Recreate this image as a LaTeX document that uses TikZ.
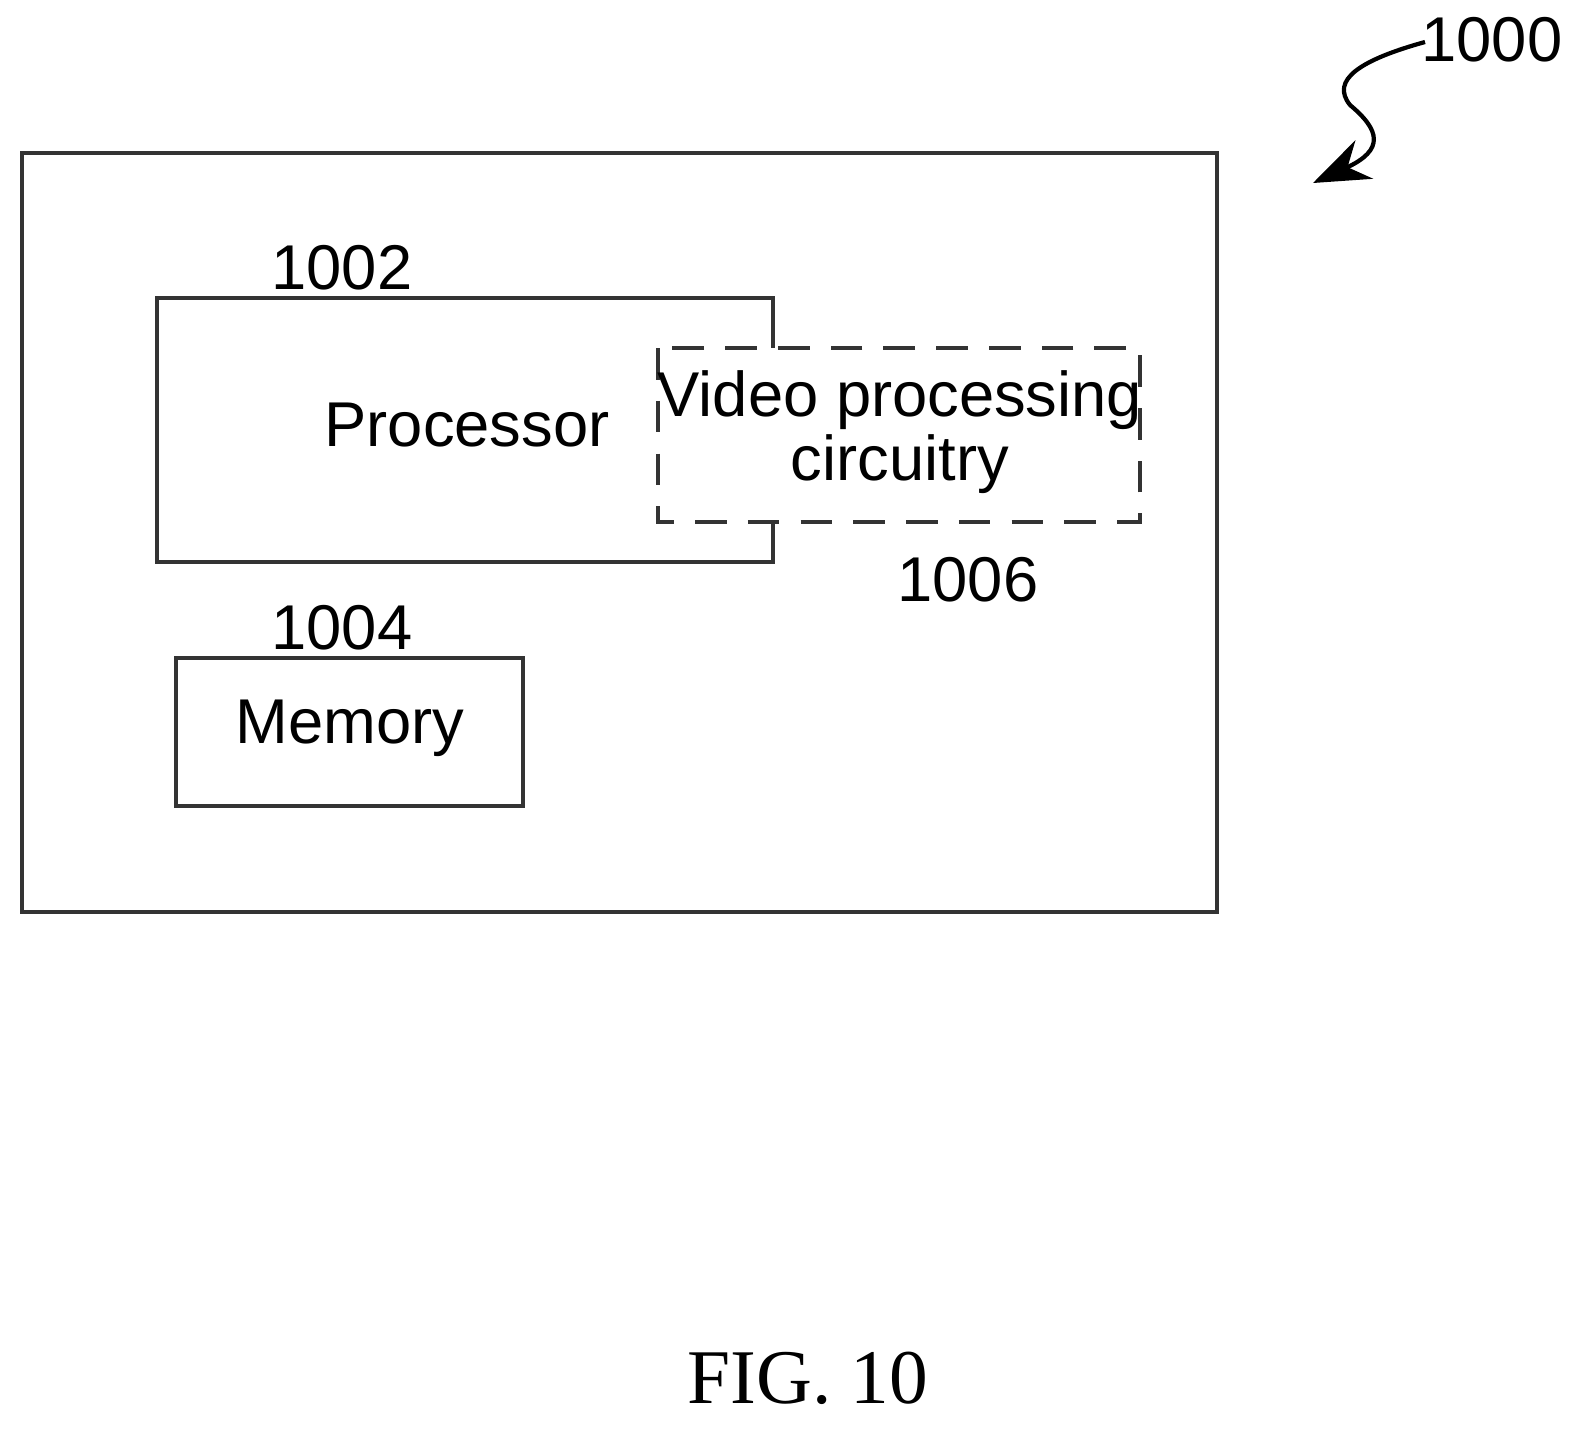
\documentclass[tikz,border=0pt]{standalone}
\usepackage{fontspec}
\setmainfont{Liberation Sans}
\newfontfamily\figfont{Liberation Serif}
\usetikzlibrary{arrows.meta}
\begin{document}
\begin{tikzpicture}[x=0.01cm,y=-0.01cm,
  box/.style={draw=black!80,line width=1.2pt},
  lbl/.style={font=\fontsize{18}{21}\selectfont}]
\useasboundingbox (0,0) rectangle (1578,1430);
% outer device
\draw[box] (22,153) rectangle (1217,912);
% processor
\draw[box] (157,298) rectangle (773,562);
\node[lbl] (proc) at (467,425) {Processor};
\node[lbl] (lproc) at (342,268) {1002};
% video processing circuitry
\draw[box,dashed,dash pattern=on 9pt off 6pt,fill=white] (658,348) rectangle (1140,522);
\node[lbl,align=center] (vpc) at (900,432) {Video processing\\[-3pt]circuitry};
\node[lbl] (lvpc) at (968,580) {1006};
% memory
\draw[box] (176,658) rectangle (523,806);
\node[lbl] (mem) at (350,728) {Memory};
\node[lbl] (lmem) at (342,628) {1004};
% reference numeral
\node[lbl] (ldev) at (1492,40) {1000};
\coordinate (tip) at (1313,183);
\draw[line width=1.2pt,-{Stealth[length=16pt,width=12pt]}] (1425,42)
  .. controls (1360,60) and (1330,80) .. (1350,105)
  .. controls (1380,130) and (1385,150) .. (tip);
\node[font=\figfont\fontsize{22}{26}\selectfont] (fig) at (808,1378) {FIG. 10};
\end{tikzpicture}
\end{document}
